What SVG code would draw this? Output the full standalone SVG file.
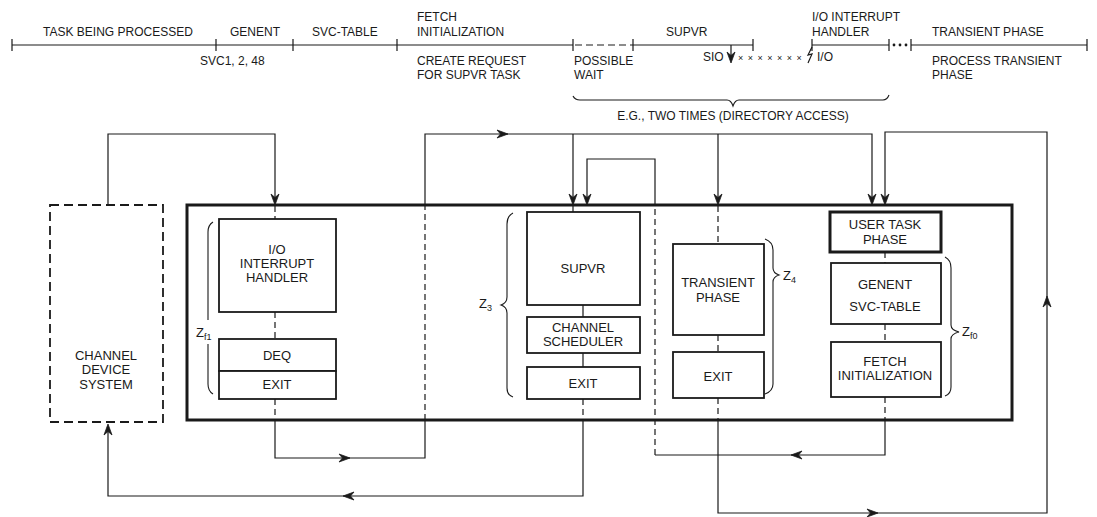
<svg xmlns="http://www.w3.org/2000/svg" width="1097" height="517" viewBox="0 0 1097 517">
<style>
text{font-family:"Liberation Sans",Arial,sans-serif;fill:#1a1a1a;font-size:12px}
.t13{font-size:13px}
.c{text-anchor:middle}
.sub{font-size:9px}
.ln{fill:none;stroke:#1a1a1a;stroke-width:1.2}
.dl{fill:none;stroke:#1a1a1a;stroke-width:1.2;stroke-dasharray:6,4}
.box{fill:#fff;stroke:#1a1a1a;stroke-width:1.8}
.thick{fill:none;stroke:#1a1a1a;stroke-width:3}
.br{fill:none;stroke:#1a1a1a;stroke-width:1.1}
</style>
<defs>
<path id="ah" d="M0,0 L-11,-4 L-7.5,0 L-11,4 Z" fill="#1a1a1a" stroke="#1a1a1a" stroke-width="0.8"/>
</defs>

<g id="timeline">
<path class="ln" d="M12,45 H573 M633,45 H753 M812,45 H889 M911,45 H1087"/>
<path class="ln" stroke-dasharray="7,4" d="M575,45 H633"/>
<path class="ln" d="M12,39 V51 M216,39 V51 M293,39 V51 M397,39 V51 M573,39 V51 M633,39 V51 M753,39 V51 M812,39 V51 M889,39 V51 M911,39 V51 M1087,39 V51"/>
<circle cx="894" cy="45" r="1.4" fill="#1a1a1a"/>
<circle cx="900" cy="45" r="1.4" fill="#1a1a1a"/>
<circle cx="906" cy="45" r="1.4" fill="#1a1a1a"/>
<path class="ln" d="M731,45 V60"/>
<use href="#ah" transform="translate(731,63) rotate(90)"/>
<path class="ln" d="M812,47 L808,55 L812,54 L808,63"/>
<text x="43" y="36">TASK BEING PROCESSED</text>
<text x="230" y="36">GENENT</text>
<text x="312" y="36">SVC-TABLE</text>
<text x="417" y="21">FETCH</text>
<text x="417" y="36">INITIALIZATION</text>
<text x="200" y="65">SVC1, 2, 48</text>
<text x="417" y="65">CREATE REQUEST</text>
<text x="417" y="79">FOR SUPVR TASK</text>
<text x="574" y="65">POSSIBLE</text>
<text x="574" y="79">WAIT</text>
<text x="666" y="36">SUPVR</text>
<text x="703" y="61">SIO</text>
<text x="738" y="61" style="font-size:9px;letter-spacing:1px">× × × × × × ×</text>
<text x="817" y="61">I/O</text>
<text x="812" y="21">I/O INTERRUPT</text>
<text x="812" y="36">HANDLER</text>
<text x="932" y="36">TRANSIENT PHASE</text>
<text x="932" y="65">PROCESS TRANSIENT</text>
<text x="932" y="79">PHASE</text>
<path class="br" d="M573,96 Q575,100 580,100 H727 Q731,100 733,106 Q735,100 739,100 H883 Q887,100 889,95"/>
<text class="c" x="733" y="120">E.G., TWO TIMES (DIRECTORY ACCESS)</text>
</g>

<g id="system-box">
<rect class="thick" x="187" y="205" width="825" height="215"/>
</g>

<g id="channel-device-system">
<rect x="50" y="205" width="113" height="217" fill="none" stroke="#1a1a1a" stroke-width="1.8" stroke-dasharray="9,5"/>
<text class="t13 c" x="106" y="360">CHANNEL</text>
<text class="t13 c" x="106" y="374">DEVICE</text>
<text class="t13 c" x="106" y="389">SYSTEM</text>
</g>

<g id="io-interrupt-handler">
<rect class="box" x="219" y="219" width="117" height="93"/>
<text class="t13 c" x="277" y="254">I/O</text>
<text class="t13 c" x="277" y="268">INTERRUPT</text>
<text class="t13 c" x="277" y="282">HANDLER</text>
</g>
<g id="deq">
<rect class="box" x="219" y="339" width="117" height="32"/>
<text class="t13 c" x="277" y="360">DEQ</text>
</g>
<g id="io-exit">
<rect class="box" x="219" y="371" width="117" height="28"/>
<text class="t13 c" x="277" y="389">EXIT</text>
</g>
<g id="zf1">
<path class="br" d="M213,222 Q208,225 208,232 V320 M208,344 V384 Q208,391 213,394"/>
<text class="t13" x="196" y="337">Z<tspan class="sub" dy="3">f1</tspan></text>
</g>

<g id="supvr">
<rect class="box" x="527" y="212" width="113" height="93"/>
<text class="t13 c" x="583" y="273">SUPVR</text>
</g>
<g id="channel-scheduler">
<rect class="box" x="527" y="317" width="113" height="36"/>
<text class="t13 c" x="583" y="332">CHANNEL</text>
<text class="t13 c" x="583" y="346">SCHEDULER</text>
</g>
<g id="supvr-exit">
<rect class="box" x="527" y="367" width="113" height="32"/>
<text class="t13 c" x="583" y="388">EXIT</text>
</g>
<g id="z3">
<path class="br" d="M513,213 Q507,216 507,224 V297 Q507,303 501,305 Q507,307 507,313 V388 Q507,395 513,397"/>
<text class="t13" x="479" y="308">Z<tspan class="sub" dy="3">3</tspan></text>
</g>

<g id="transient-phase">
<rect class="box" x="673" y="244" width="91" height="91"/>
<text class="t13 c" x="718" y="287">TRANSIENT</text>
<text class="t13 c" x="718" y="302">PHASE</text>
</g>
<g id="transient-exit">
<rect class="box" x="673" y="352" width="91" height="46"/>
<text class="t13 c" x="718" y="381">EXIT</text>
</g>
<g id="z4">
<path class="br" d="M765,239 Q773,242 773,250 V268 Q773,273 779,275 Q773,277 773,282 V384 Q773,391 765,394"/>
<text class="t13" x="783" y="280">Z<tspan class="sub" dy="3">4</tspan></text>
</g>

<g id="user-task-phase">
<rect x="830" y="212" width="111" height="40" fill="#fff" stroke="#1a1a1a" stroke-width="3"/>
<text class="t13 c" x="885" y="229">USER TASK</text>
<text class="t13 c" x="885" y="244">PHASE</text>
</g>
<g id="genent-svc-table">
<rect class="box" x="831" y="263" width="110" height="61"/>
<text class="t13 c" x="885" y="289">GENENT</text>
<text class="t13 c" x="885" y="311">SVC-TABLE</text>
</g>
<g id="fetch-initialization">
<rect class="box" x="831" y="342" width="110" height="55"/>
<text class="t13 c" x="885" y="366">FETCH</text>
<text class="t13 c" x="885" y="380">INITIALIZATION</text>
</g>
<g id="zf0">
<path class="br" d="M945,257 Q951,260 951,268 V325 Q951,330 959,332 Q951,334 951,339 V387 Q951,394 945,396"/>
<text class="t13" x="962" y="336">Z<tspan class="sub" dy="3">f0</tspan></text>
</g>

<g id="connectors">
<path class="ln" d="M108,205 V134 H275 V198"/>
<path class="dl" d="M275,206 V219"/>
<path class="dl" d="M275,312 V339"/>
<path class="dl" d="M275,399 V420"/>
<path class="ln" d="M275,421 V458 H425 V421"/>
<path class="dl" d="M425,420 V206"/>
<path class="ln" d="M425,205 V134 H872 V198 M573,134 V198 M718,134 V198"/>
<path class="dl" d="M573,206 V212"/>
<path class="dl" d="M718,206 V244"/>
<path class="ln" d="M583,305 V317 M583,353 V367"/>
<path class="dl" d="M583,399 V420"/>
<path class="ln" d="M583,421 V496 H108 V430"/>
<path class="dl" d="M718,335 V352"/>
<path class="dl" d="M718,398 V420"/>
<path class="ln" d="M718,421 V513 H1047 V132 H885 V198"/>
<path class="dl" d="M885,252 V263 M885,324 V342"/>
<path class="dl" d="M885,397 V420"/>
<path class="ln" d="M885,421 V455 H655"/>
<path class="dl" d="M655,455 V206"/>
<path class="ln" d="M655,205 V159 H587 V198"/>
<use href="#ah" transform="translate(275,205) rotate(90)"/>
<use href="#ah" transform="translate(508,134)"/>
<use href="#ah" transform="translate(573,205) rotate(90)"/>
<use href="#ah" transform="translate(587,205) rotate(90)"/>
<use href="#ah" transform="translate(718,205) rotate(90)"/>
<use href="#ah" transform="translate(872,205) rotate(90)"/>
<use href="#ah" transform="translate(885,205) rotate(90)"/>
<use href="#ah" transform="translate(1047,296) rotate(-90)"/>
<use href="#ah" transform="translate(878,513)"/>
<use href="#ah" transform="translate(791,455) rotate(180)"/>
<use href="#ah" transform="translate(350,458)"/>
<use href="#ah" transform="translate(343,496) rotate(180)"/>
<use href="#ah" transform="translate(108,424) rotate(-90)"/>
</g>
</svg>
